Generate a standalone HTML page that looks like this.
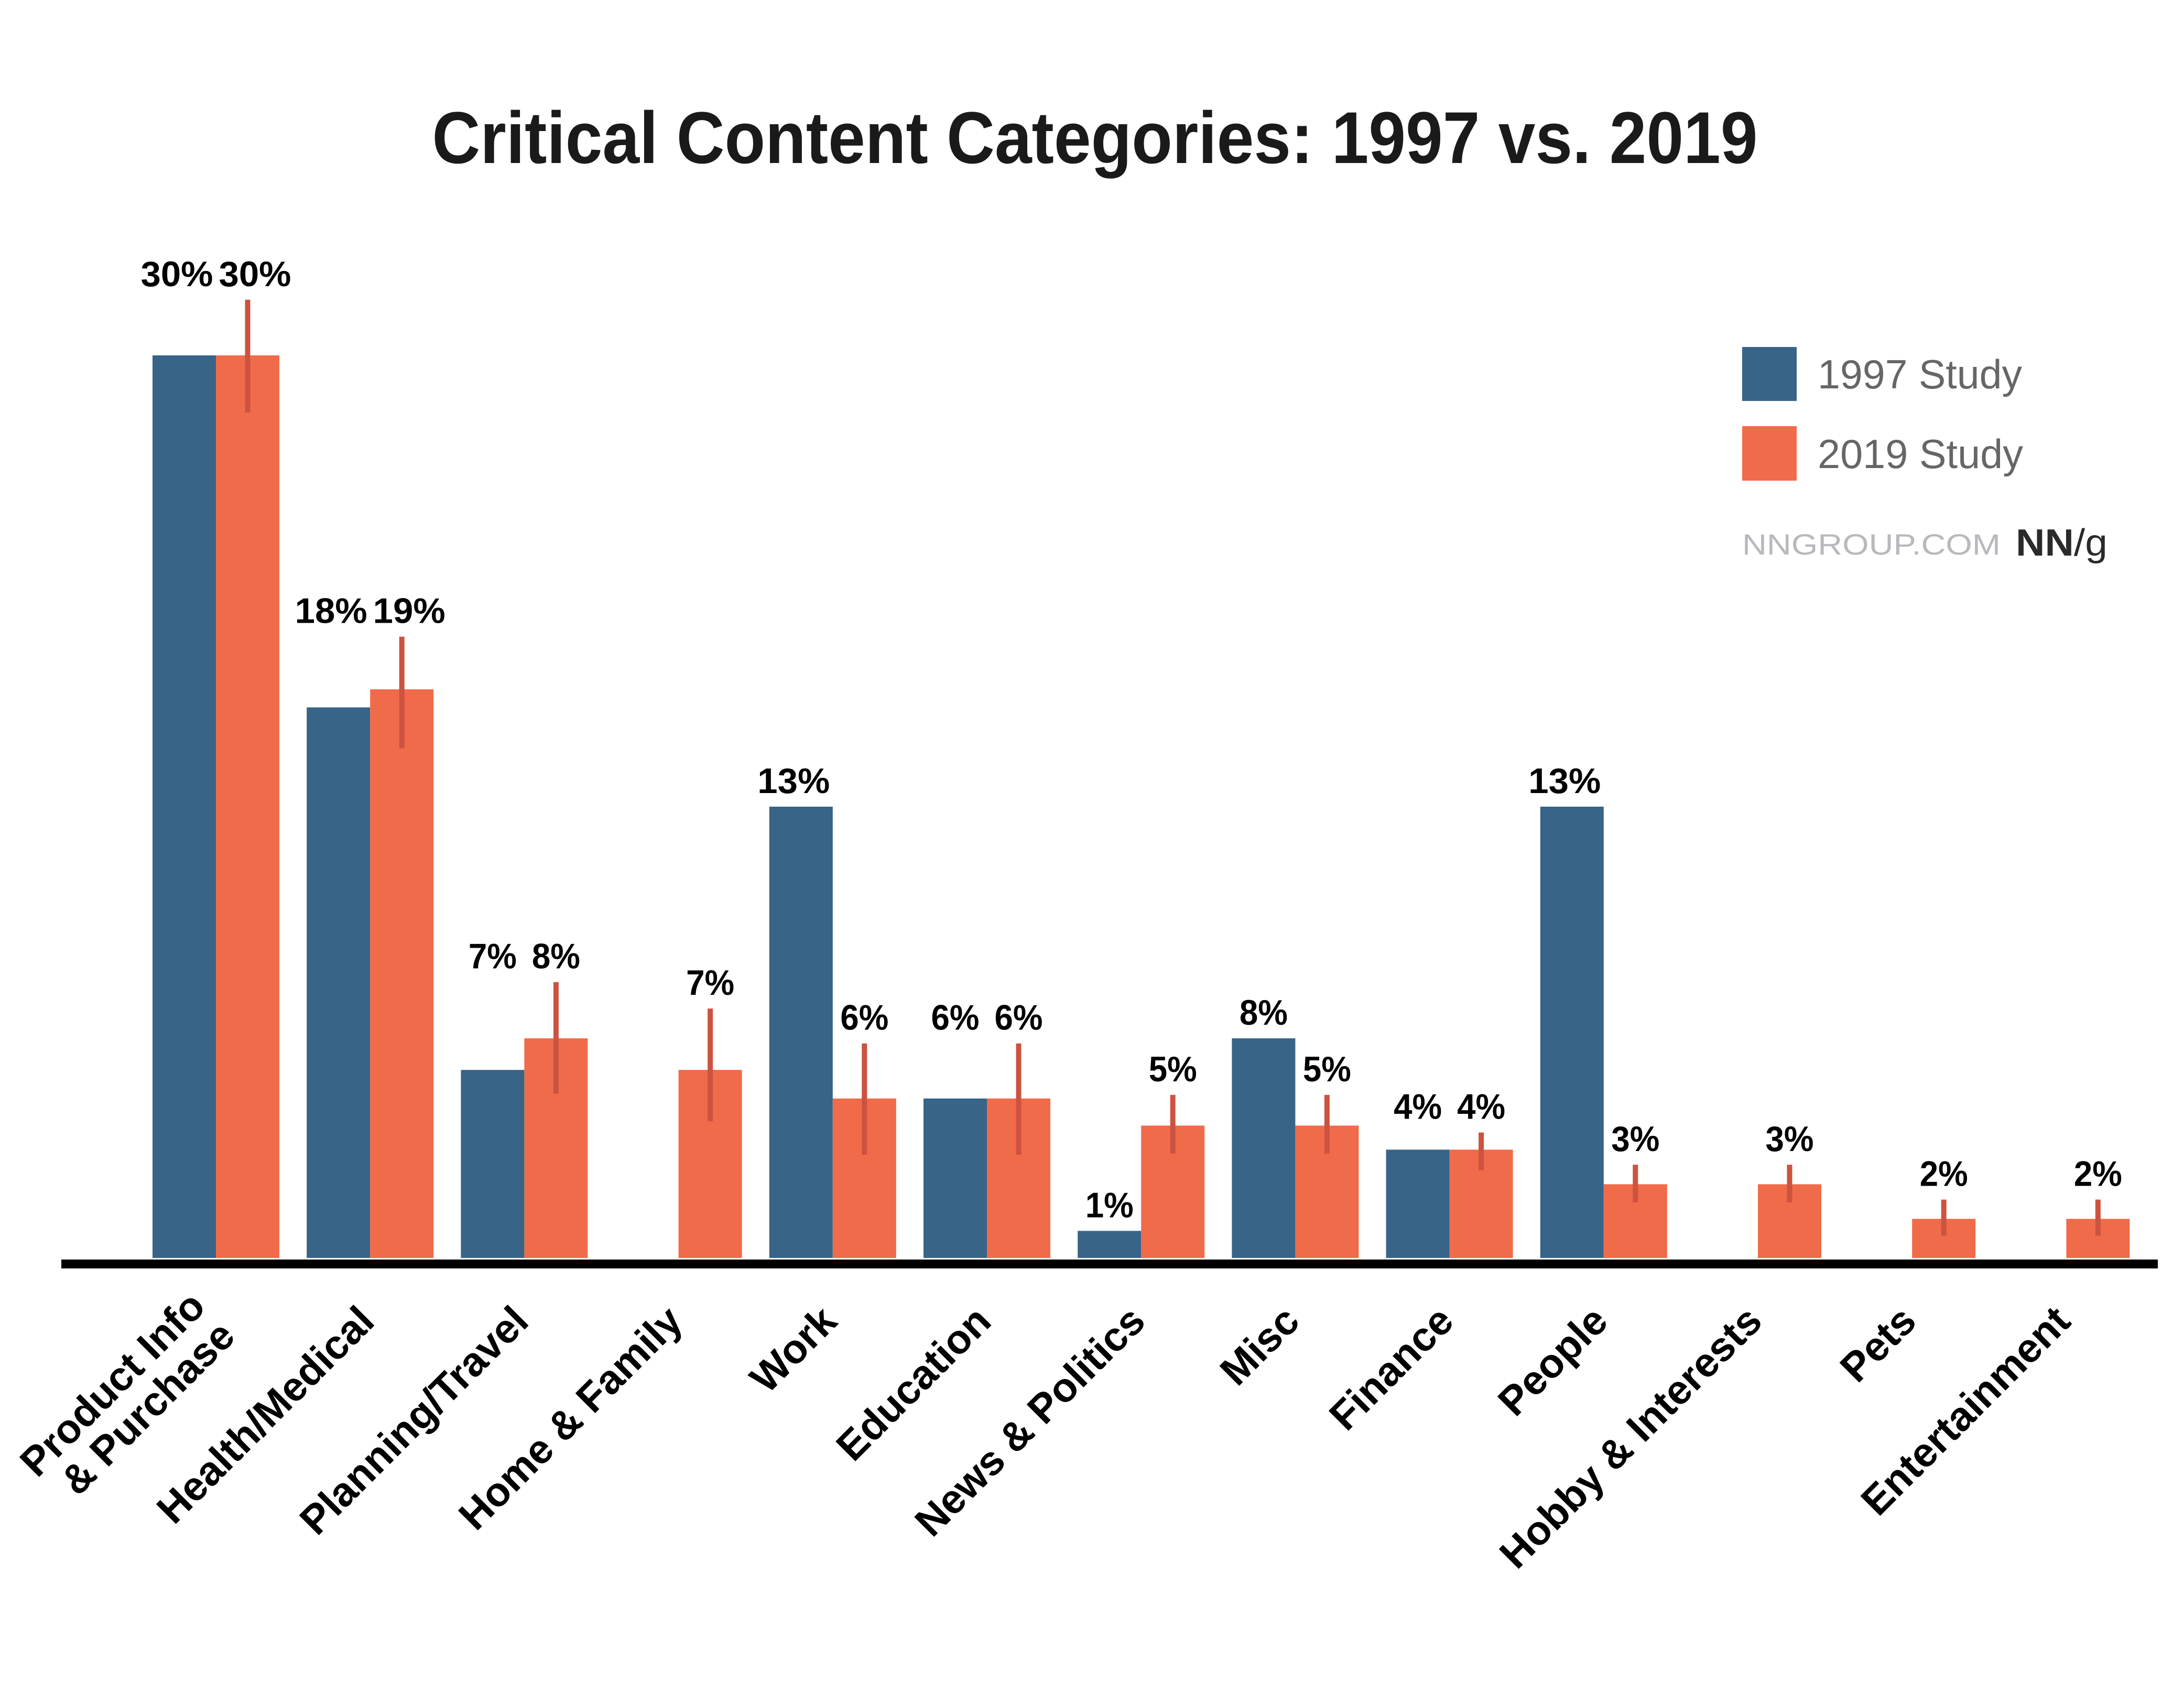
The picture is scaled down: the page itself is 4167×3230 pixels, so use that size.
<!DOCTYPE html>
<html><head><meta charset="utf-8"><style>
html,body{margin:0;padding:0;background:#fff;}
svg{display:block;}
text{font-family:"Liberation Sans",sans-serif;}
</style></head><body>
<svg id="chart" width="4167" height="3230" viewBox="0 0 4167 3230" xmlns="http://www.w3.org/2000/svg">
<rect width="4167" height="3230" fill="#fff"/>
<text x="2089" y="311" font-size="140" font-weight="bold" text-anchor="middle" fill="#1a1a1a" textLength="2529" lengthAdjust="spacingAndGlyphs">Critical Content Categories: 1997 vs. 2019</text>
<g id="bars"></g>
<rect x="117" y="2403" width="4000" height="17" fill="#000"/>
<g id="labels"></g>
<g>
<rect x="3324" y="662" width="104" height="103" fill="#386488"/>
<text x="3468" y="741" font-size="78" fill="#666" textLength="390" lengthAdjust="spacingAndGlyphs">1997 Study</text>
<rect x="3324" y="813" width="104" height="104" fill="#f06b4a"/>
<text x="3468" y="893" font-size="78" fill="#666" textLength="392" lengthAdjust="spacingAndGlyphs">2019 Study</text>
</g>
<text x="3324" y="1058" font-size="56" fill="#b8b8bd" textLength="493" lengthAdjust="spacingAndGlyphs">NNGROUP.COM</text>
<text x="3846" y="1060" font-size="72" fill="#2a2a2a" textLength="175" lengthAdjust="spacingAndGlyphs"><tspan font-weight="bold">NN</tspan>/g</text>
</svg>
<script>
const categories = ["Product Info|& Purchase","Health/Medical","Planning/Travel","Home & Family","Work","Education","News & Politics","Misc","Finance","People","Hobby & Interests","Pets","Entertainment"];
const values1997 = [30, 18.3, 6.25, null, 15.0, 5.3, 0.9, 7.3, 3.6, 15.0, null, null, null];
const values2019 = [30, 18.9, 7.3, 6.25, 5.3, 5.3, 4.4, 4.4, 3.6, 2.45, 2.45, 1.3, 1.3];
const errLow2019 = [28.1, 16.94, 5.46, 4.54, 3.43, 3.43, 3.47, 3.47, 2.92, 1.85, 1.85, 0.74, 0.74];
const errHigh2019 = [31.85, 20.65, 9.17, 8.29, 7.13, 7.13, 5.42, 5.42, 4.17, 3.10, 3.10, 1.94, 1.94];
const labels1997 = ["30%","18%","7%","","13%","6%","1%","8%","4%","13%","","",""];
const labels2019 = ["30%","19%","8%","7%","6%","6%","5%","5%","4%","3%","3%","2%","2%"];

const NS = "http://www.w3.org/2000/svg";
const baseY = 2400, perPct = 57.4, firstCenter = 412, step = 294.2, barW = 121;
const y = v => baseY - v * perPct;
const xc = i => firstCenter + i * step;
const bars = document.getElementById('bars');
const labs = document.getElementById('labels');
function mk(tag, attrs, parent){const e=document.createElementNS(NS,tag);for(const k in attrs)e.setAttribute(k,attrs[k]);parent.appendChild(e);return e;}
function lw(s){return s.length * 46;}

categories.forEach((c, i) => {
  const cx = xc(i);
  const errTop = y(errHigh2019[i]);
  if (values1997[i] != null) {
    const bTop = y(values1997[i]);
    const r = mk('rect', {x: cx - barW, y: bTop, width: barW, height: baseY - bTop, fill: '#386488'}, bars);
    
    
    const ly = (values1997[i] < 2) ? bTop : Math.min(bTop, errTop);
    const s = labels1997[i];
    const t = mk('text', {x: cx - barW/2 - (s.length > 2 ? 14 : 0), y: ly - 26, 'font-size': 68, 'font-weight': 'bold', 'text-anchor': 'middle', fill: '#000', textLength: lw(s), lengthAdjust: 'spacingAndGlyphs'}, labs);
    t.textContent = s;
    
    
  }
  const r2 = mk('rect', {x: cx, y: y(values2019[i]), width: barW, height: baseY - y(values2019[i]), fill: '#f06b4a'}, bars);
  
  
  const eb = mk('rect', {x: cx + barW/2 - 5, y: errTop, width: 10, height: y(errLow2019[i]) - errTop, fill: '#cc5340'}, bars);
  
  
  const s2 = labels2019[i];
  const t2 = mk('text', {x: cx + barW/2 + (s2.length > 2 ? 14 : 0), y: errTop - 26, 'font-size': 68, 'font-weight': 'bold', 'text-anchor': 'middle', fill: '#000', textLength: lw(s2), lengthAdjust: 'spacingAndGlyphs'}, labs);
  t2.textContent = s2;
  
  

  const ax = cx + 12, ay = 2525;
  const ct = mk('text', {transform: `translate(${ax},${ay}) rotate(-45)`, 'font-size': 78, 'font-weight': 'bold', 'text-anchor': 'end', fill: '#000'}, labs);
  
  
  const parts = c.split('|');
  parts.forEach((p, k) => {
    const ts = mk('tspan', {x: 0, y: (k - (parts.length - 1)) * 80 + (parts.length > 1 ? 40 : 0)}, ct);
    ts.textContent = p;
  });
});
</script>
</body></html>
